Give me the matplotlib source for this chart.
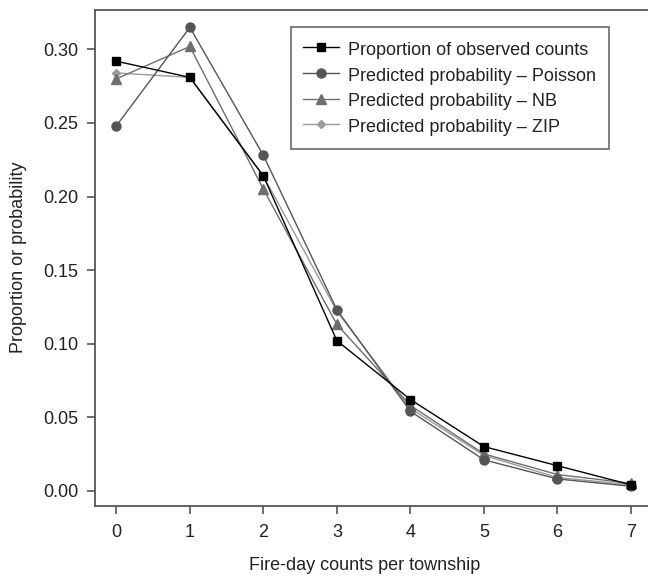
import matplotlib
matplotlib.use("Agg")
import matplotlib.pyplot as plt

plt.rcParams['font.family'] = ['Liberation Sans', 'DejaVu Sans']

counts = [0, 1, 2, 3, 4, 5, 6, 7]
observed = [0.292, 0.281, 0.214, 0.102, 0.062, 0.030, 0.017, 0.004]
poisson = [0.248, 0.315, 0.228, 0.123, 0.054, 0.021, 0.008, 0.003]
nb = [0.280, 0.302, 0.205, 0.113, 0.058, 0.025, 0.011, 0.005]
zip_ = [0.284, 0.281, 0.214, 0.122, 0.056, 0.024, 0.009, 0.004]
labels = ["Proportion of observed counts",
          "Predicted probability \u2013 Poisson",
          "Predicted probability \u2013 NB",
          "Predicted probability \u2013 ZIP"]
yticks = [0.00, 0.05, 0.10, 0.15, 0.20, 0.25, 0.30]

FS = 13
W, H = 648, 583
fig = plt.figure(figsize=(W / 100, H / 100), dpi=100)
ax = fig.add_axes([95 / W, 77 / H, 558 / W, 496 / H])

ax.plot(counts, observed, color='black', lw=1.0, marker='s', ms=6, label=labels[0], zorder=5)
ax.plot(counts, poisson, color='#555555', lw=1.0, marker='o', ms=6.5, label=labels[1], zorder=4)
ax.plot(counts, nb, color='#6e6e6e', lw=1.0, marker='^', ms=6.5, label=labels[2], zorder=3)
ax.plot(counts, zip_, color='#9a9a9a', lw=1.0, marker='D', ms=4, label=labels[3], zorder=2)

ax.set_xlim(-0.29, 7.3)
ax.set_ylim(-0.0104, 0.3268)
ax.set_xticks(counts)
ax.set_yticks(yticks)
ax.set_yticklabels([f"{v:.2f}" for v in yticks])
ax.tick_params(axis='both', direction='out', length=6, width=1.2, color='#555555',
               labelsize=FS, colors='#222222')
ax.tick_params(axis='x', pad=7)
ax.tick_params(axis='y', pad=6)
for s in ax.spines.values():
    s.set_color('#555555')
    s.set_linewidth(1.3)

leg = ax.legend(loc='upper right', bbox_to_anchor=(609 / W, 1 - 27 / H),
                bbox_transform=fig.transFigure, fontsize=FS, frameon=True,
                fancybox=False, edgecolor='#444444', handlelength=2.0,
                handleheight=1.2, handletextpad=0.5, labelspacing=0.35,
                borderpad=0.7, borderaxespad=0)
leg.get_frame().set_linewidth(1.2)
for t in leg.get_texts():
    t.set_color('#222222')

fig.text(19 / W, 1 - 257 / H, "Proportion or probability", rotation=90,
         ha='center', va='center', fontsize=FS, color='#222222')
fig.text(365 / W, 1 - 566 / H, "Fire-day counts per township",
         ha='center', va='center', fontsize=FS, color='#222222')

fig.savefig("out.png", dpi=100)
